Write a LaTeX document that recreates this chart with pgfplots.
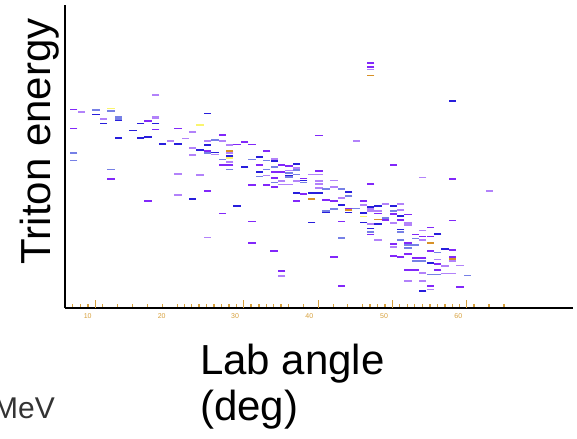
\documentclass[border=0pt]{standalone}
\usepackage{pgfplots}
\pgfplotsset{compat=1.18}
\usepackage{pgfplotstable}
\usepackage{fontspec}
\setmainfont{Liberation Sans}
\definecolor{cP}{RGB}{130,40,250}
\definecolor{cB}{RGB}{40,30,220}
\definecolor{cLP}{RGB}{178,130,250}
\definecolor{cLB}{RGB}{118,128,230}
\definecolor{cO}{RGB}{215,145,40}
\definecolor{cY}{RGB}{250,245,110}
\definecolor{tickor}{RGB}{215,160,60}

% x = lab angle position, y = energy position (measured downward from top; converted below)
\pgfplotstableread{
x y
73.7 108.3
148 120
73.7 127.3
155.7 128.3
178 127.3
222.3 134
207.3 149.3
237 143
244.7 140.3
252 143
222.3 163.3
111 177.3
207.3 189.3
148 199
222.3 211.3
252 219.3
252 240.3
266.7 149.3
259.3 163.3
274.3 170.3
274.3 176.3
274.3 185.3
266.7 183.3
252 183.3
281.7 163.3
281.7 170.3
289 164.3
296.3 199
303.7 176.7
303.7 192.3
274 248.3
281.7 268.3
229.7 163.3
370.7 62.3
370.7 66
319 134.3
319 169
326 198.3
334 199.3
348.7 206.3
363.7 199.3
370.7 182.3
378 211.3
370.7 232.3
385.7 218
393.3 212
400.7 217.7
408 212.3
393.3 163.3
393.3 241.3
393.3 253.3
400.7 254.3
408 240.3
408 251.3
415.3 232.3
415.3 255.3
415.3 267.3
408 267.3
422.7 234.3
422.7 255.3
430.3 225.3
430.3 234.3
430.3 248.3
430.3 283.3
437.7 261.3
437.7 267.3
452.3 177.3
452.3 218.3
452.3 247.3
452.3 254.3
460 284
341.3 283.3
334 254.3
341.3 219.3
}\tPurple

\pgfplotstableread{
x y
96 113.3
118.3 119.3
103.3 122.3
155.7 122.3
140.7 122.3
207.3 112.3
133 129.3
118.3 136.3
140.7 136.3
148 135.3
162.7 142.3
178 142.3
207.3 143.3
200 148.3
215 151
229.7 154.7
192.3 197.3
237 203.7
244.7 165
259.3 155.3
259.3 170.3
274.3 159.7
289 173.7
296.3 162.7
296.3 191.3
303.7 178.7
452.3 100.3
311.7 191.3
319 191.3
348.7 190.3
341.3 203.3
326 210.3
348.7 210.3
363.7 210.7
363.7 220.3
370.7 205
378 204.3
378 221.7
370.7 226.3
393.3 204.3
400.7 213.7
400.7 227.3
422.7 288.3
430.3 260.3
437.7 231.7
445 246.3
311.7 220.3
}\tBlue

\pgfplotstableread{
x y
155.7 94
81.3 110.7
103.3 117.7
155.7 115.3
155.7 117
192.7 130.7
170.3 139.7
185.3 137
207.3 139.7
222.3 139.7
192.7 146.7
215 153
192.7 153.3
229.7 143.3
229.7 151.3
229.7 160.3
178 172
200 173
178 193
207.3 235
274.3 157.7
266.7 173.7
281.7 179
281.7 182.7
289 168.7
289 182.7
296.3 166
296.3 179
281.7 273.3
370.7 68.7
356.3 139.7
311.3 172.7
319 172.7
319 179.3
319 182
319 186
334 178.7
334 185.3
341.3 196.3
363.7 202.7
370.7 207
370.7 208.7
378 209
370.7 222
378 237.7
385.7 202
393.3 221
400.7 202
400.7 208
408 221
408 222.7
422.7 175.7
393.3 244.3
408 278
422.7 228.3
422.7 237.7
422.7 270.3
422.7 278
430.3 286.7
437.7 257
445 263.3
445 270.7
452.3 258.7
452.3 270.7
460 263
489.3 189.3
}\tLPurple

\pgfplotstableread{
x y
96 109
111 110
118.3 116
118.3 117.7
207.3 151.7
215 138.7
229.7 167.7
222.3 158
73.7 151.7
73.7 159
111 167.7
252 158
259.3 174.7
266.7 159
266.7 167.7
274.3 165
274.3 180.7
289 171.3
289 175.3
296.3 168.3
296.3 172.7
303.7 180.7
326 187.3
341.3 187.3
348.7 194
356 206.3
326 208.7
334 206.7
370.7 229.7
385.7 216
393.3 208.7
400.7 229.7
400.7 237.7
408 242.7
408 245.7
415.3 236
415.3 242.7
415.3 258.7
422.7 258.7
430.3 271.7
437.7 250
437.7 271.7
467.3 272.7
341.3 235.3
}\tLBlue

\pgfplotstableread{
x y
229.7 149.3
311.7 197
348.7 208
378 217.3
430.3 240.3
452.3 256.7
370.7 74.7
}\tOrange

\pgfplotstableread{
x y
111 107.3
200 123.7
229.7 156.3
363.7 214.3
}\tYellow

\begin{document}
\begin{tikzpicture}
\begin{axis}[
  scale only axis, width=508bp, height=303bp,
  xmin=65, xmax=573, ymin=0, ymax=300,
  axis x line=bottom, axis y line=left,
  axis line style={-, line width=2.2bp, black},
  ytick=\empty,
  xtick={87.7,161.7,235,309.3,384,458.3},
  xticklabels={10,20,30,40,50,60},
  major tick length=0bp,
  minor xtick={72.7,80.7,88,102.7,117.7,132.7,147.7,162.3,177.3,184.3,191.7,199,206.7,214,221.7,229,236.7,251,259,266.7,273.3,281,288.3,303.3,333.3,347.7,362.3,370,377.3,385,399.3,407.3,414.3,422.3,430,437.3,445,452.3,459.3,474,489,504},
  minor tick length=4.5bp,
  extra x ticks={95.7,243.3,318.3,392.3,466.7},
  extra x tick labels={},
  extra x tick style={major tick length=8.5bp},
  tick align=inside,
  tick style={draw=tickor, line width=1.4bp},
  x tick label style={font=\fontsize{7bp}{7bp}\selectfont, text=tickor, inner sep=0pt, yshift=-5bp},
  clip=false,
]
\addplot[only marks, mark=-, mark size=3.6bp, mark options={line width=1.7bp, draw=cLP}] table[x=x, y expr=305-\thisrow{y}] {\tLPurple};
\addplot[only marks, mark=-, mark size=3.6bp, mark options={line width=1.7bp, draw=cLB}] table[x=x, y expr=305-\thisrow{y}] {\tLBlue};
\addplot[only marks, mark=-, mark size=3.6bp, mark options={line width=1.7bp, draw=cP}] table[x=x, y expr=305-\thisrow{y}] {\tPurple};
\addplot[only marks, mark=-, mark size=3.6bp, mark options={line width=1.7bp, draw=cB}] table[x=x, y expr=305-\thisrow{y}] {\tBlue};
\addplot[only marks, mark=-, mark size=3.6bp, mark options={line width=1.7bp, draw=cO}] table[x=x, y expr=305-\thisrow{y}] {\tOrange};
\addplot[only marks, mark=-, mark size=3.6bp, mark options={line width=1.7bp, draw=cY}] table[x=x, y expr=305-\thisrow{y}] {\tYellow};

\node[rotate=90, anchor=base, inner sep=0pt, font=\fontsize{42bp}{42bp}\selectfont] at (axis cs:51,165) {Triton energy};
\node[anchor=base west, inner sep=0pt, font=\fontsize{42bp}{42bp}\selectfont] at (axis cs:200,-66) {Lab angle};
\node[anchor=base west, inner sep=0pt, font=\fontsize{42bp}{42bp}\selectfont] at (axis cs:200,-111) {(deg)};
\node[anchor=base east, inner sep=0pt, text=black!80, font=\fontsize{30bp}{30bp}\selectfont] at (axis cs:55,-109) {MeV};

\coordinate (BL) at (axis cs:0,-129);
\coordinate (TR) at (axis cs:577,305);
\end{axis}
\pgfresetboundingbox
\path[use as bounding box] (BL) rectangle (TR);
\end{tikzpicture}
\end{document}
